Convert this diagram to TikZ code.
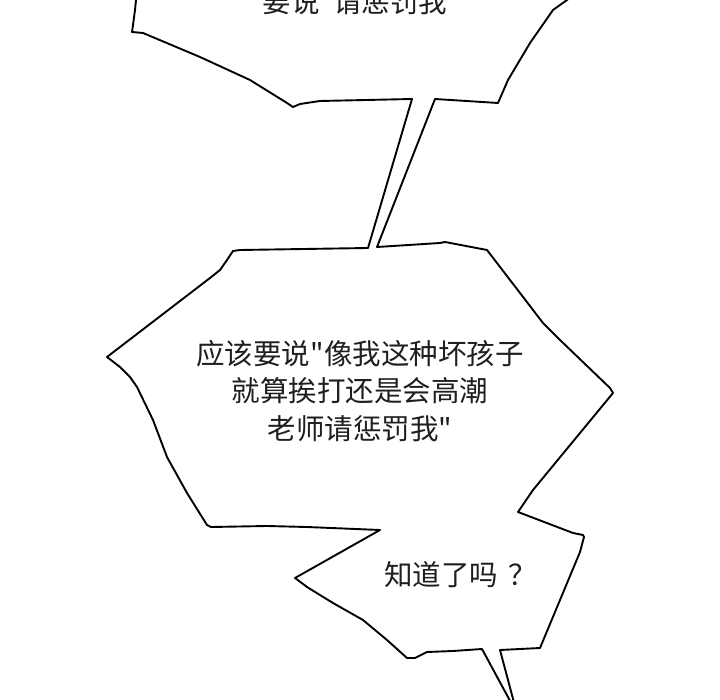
\documentclass[tikz,border=0pt]{standalone}
\usepackage{fontspec}
\newfontfamily\cjk{Noto Sans CJK SC}
\tikzset{
  bubble/.style={draw=black, line width=1.9pt, fill=white, line join=round},
  bubbletext/.style={font=\cjk\fontsize{28.5}{37.5}\selectfont, text=black!88, align=center, inner sep=0pt},
}
\begin{document}
\begin{tikzpicture}[x=1pt,y=-1pt]
\useasboundingbox (0,0) rectangle (720,700);
\fill[white] (0,0) rectangle (720,700);
\clip (0,0) rectangle (720,700);
% combined outline: top bubble, its tail, middle bubble with pointer and bottom tail
\draw[bubble]
  (137,-10) -- (135,10) -- (133,25) -- (132,32) -- (143,33)
  -- (200,57) -- (250,80) -- (287,103) -- (293,107) -- (300,104)
  -- (320,101) -- (412,99)
  -- (368,248) -- (240,250) -- (233,251)
  -- (227,260) -- (220,270) -- (210,278) -- (107,357)
  -- (120,367) -- (130,377) -- (137,387) -- (153,420)
  -- (167,457) -- (187,493) -- (207,525) -- (211,527)
  -- (267,526) -- (307,527) -- (380,530)
  -- (295,578) -- (307,587) -- (333,603) -- (363,620)
  -- (387,640) -- (407,658) -- (415,658) -- (427,652)
  -- (453,651) -- (482,649)
  -- (515,710) -- (516,710)
  -- (500,650) -- (540,648)
  -- (580,552) -- (584,537) -- (583,535) -- (573,533)
  -- (518,512) -- (533,490) -- (613,393) -- (610,388)
  -- (560,340) -- (543,323) -- (487,250) -- (445,242)
  -- (440,243) -- (377,247)
  -- (435,99) -- (498,103) -- (508,80) -- (530,43)
  -- (553,10) -- (567,0) -- (580,-10) -- cycle;
% texts
\node[bubbletext] (toptext) at (355,2) {要说"请惩罚我};
\node[bubbletext] (midtext) at (360,391) {应该要说"像我这种坏孩子\\就算挨打还是会高潮\\老师请惩罚我"};
\node[bubbletext, anchor=west] (asktext) at (384,575) {知道了吗\hspace{0.35em}？};
\end{tikzpicture}
\end{document}
